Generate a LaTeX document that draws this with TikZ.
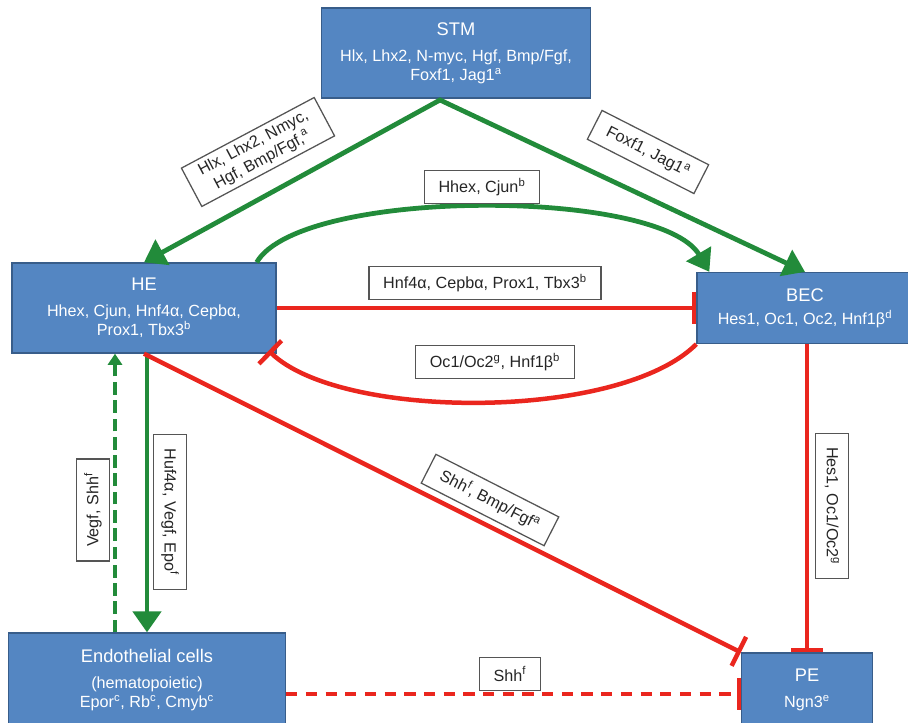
\documentclass[tikz,border=0pt]{standalone}
\usepackage{fontspec}
\setmainfont{Liberation Sans}
\usepackage{tikz}
\usetikzlibrary{arrows.meta, calc}

\definecolor{cellfill}{RGB}{84,134,194}
\definecolor{celledge}{RGB}{56,93,138}
\definecolor{upgreen}{RGB}{34,139,58}
\definecolor{downred}{RGB}{234,38,30}
\definecolor{tagedge}{RGB}{85,85,85}

\newcommand{\cellname}{\fontsize{13}{15}\selectfont}

\begin{document}
\begin{tikzpicture}[
  x=0.025cm, y=-0.025cm,
  font=\fontsize{11.5}{13.5}\selectfont,
  cell/.style={draw=celledge, line width=0.9pt, fill=cellfill, text=white,
               align=center},
  tag/.style={draw=tagedge, line width=0.9pt, fill=white, text=black!85,
              inner xsep=10pt, minimum height=23pt, align=center},
  promote/.style={draw=upgreen, line width=3.4pt,
                  -{Triangle[length=15pt, width=20pt]}},
  promotedash/.style={draw=upgreen, line width=2.2pt,
                      dash pattern=on 9pt off 4pt,
                      -{Triangle[length=8pt, width=10pt]}},
  repress/.style={draw=downred, line width=3.2pt, -{Bar[width=23pt]}},
  repressdash/.style={draw=downred, line width=2.8pt,
                      dash pattern=on 8pt off 6pt, -{Bar[width=23pt]}}]

\clip (0,0) rectangle (908,723);

\node[cell, minimum width=6.725cm, minimum height=2.25cm] (stm) at (456,53)
  {{\cellname STM}\\[5pt] Hlx, Lhx2, N-myc, Hgf, Bmp/Fgf,\\ Foxf1, Jag1\textsuperscript{a}};
\node[cell, minimum width=6.6cm, minimum height=2.25cm] (he) at (144,308)
  {{\cellname HE}\\[5pt] Hhex, Cjun, Hnf4α, Cepbα,\\ Prox1, Tbx3\textsuperscript{b}};
\node[cell, minimum width=5.4cm, minimum height=1.775cm] (bec) at (805,308)
  {{\cellname BEC}\\[3pt] Hes1, Oc1, Oc2, Hnf1β\textsuperscript{d}};
\node[cell, minimum width=6.925cm, minimum height=2.35cm] (endo) at (147,680)
  {{\cellname Endothelial cells}\\[5pt] (hematopoietic)\\ Epor\textsuperscript{c}, Rb\textsuperscript{c}, Cmyb\textsuperscript{c}};
\node[cell, minimum width=3.275cm, minimum height=1.85cm] (pe) at (807,690)
  {{\cellname PE}\\[5pt] Ngn3\textsuperscript{e}};

\coordinate (fork) at (440,100);
\coordinate (vegfbase) at ($(endo.north)+(-32,0)$);
\coordinate (shhstart) at ($(endo.east)+(0,14)$);

\draw[promote, {Triangle[length=15pt, width=20pt]}-{Triangle[length=15pt, width=20pt]}]
  (he.north) -- (fork) -- (bec.north);
\draw[promote] ($(he.north east)+(-20,0)$) .. controls +(44,-75) and +(-50,-84) .. ($(bec.north west)+(13,0)$);
\draw[repress] (he.east) -- (bec.west);
\draw[repress] (bec.south west) .. controls +(-77,77) and +(72,70) .. ($(he.south east)+(-8,-3)$);
\draw[promote] (he.south -| endo.north) -- (endo.north);
\draw[promotedash] (vegfbase) -- (vegfbase |- he.south);
\draw[repress] (he.south) -- (pe.north west);
\draw[repress] (bec.south -| pe.north) -- (pe.north);
\draw[repressdash] (shhstart) -- (shhstart -| pe.west);

\node[tag, rotate=28] (t-stmhe) at (258,152) {Hlx, Lhx2, Nmyc,\\ Hgf, Bmp/Fgf,\textsuperscript{a}};
\node[tag, rotate=-27] (t-stmbec) at (648,152) {Foxf1, Jag1\textsuperscript{a}};
\node[tag] (t-hhex) at (482,187) {Hhex, Cjun\textsuperscript{b}};
\node[tag] (t-hnf) at (485,283) {Hnf4α, Cepbα, Prox1, Tbx3\textsuperscript{b}};
\node[tag] (t-oc) at (495,362) {Oc1/Oc2\textsuperscript{g}, Hnf1β\textsuperscript{b}};
\node[tag, rotate=90] (t-vegf) at (93,510) {Vegf, Shh\textsuperscript{f}};
\node[tag, rotate=-90] (t-huf) at (170,512) {Huf4α, Vegf, Epo\textsuperscript{f}};
\node[tag, rotate=-27] (t-shh) at (490,500) {Shh\textsuperscript{f}, Bmp/Fgf\textsuperscript{a}};
\node[tag, rotate=-90] (t-hes) at (832,506) {Hes1, Oc1/Oc2\textsuperscript{g}};
\node[tag] (t-shhpe) at (510,674) {Shh\textsuperscript{f}};
\end{tikzpicture}
\end{document}
